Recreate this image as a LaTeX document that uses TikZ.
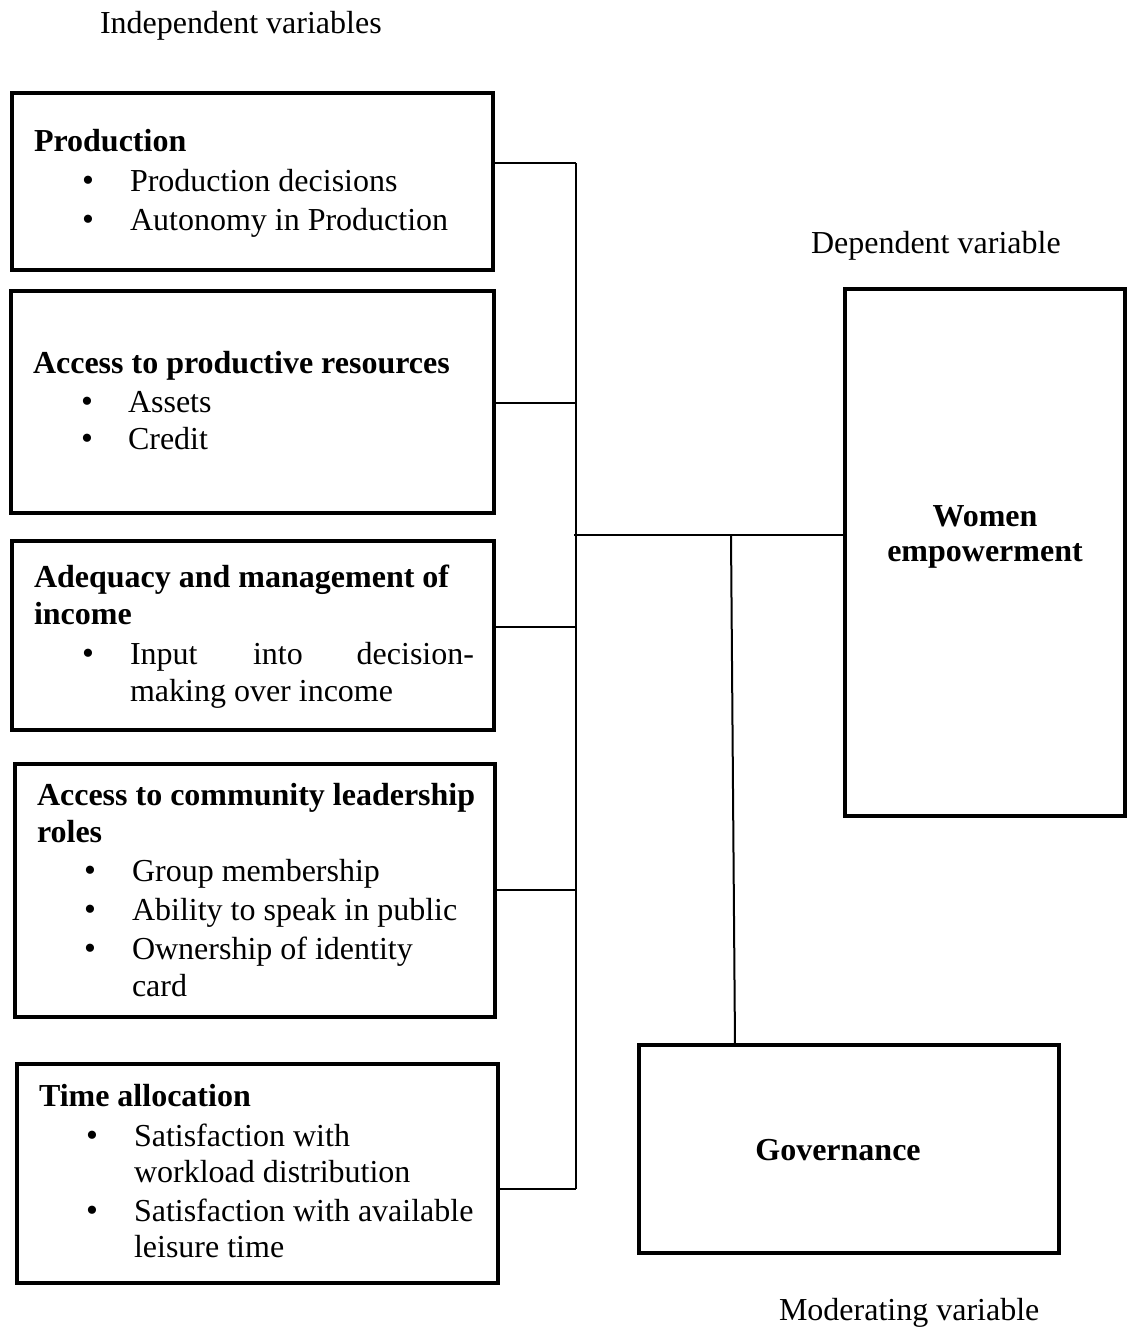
\documentclass[tikz,border=0pt]{standalone}
\usepackage{fontspec}
\setmainfont{Liberation Serif}
\begin{document}
\begin{tikzpicture}[x=1pt,y=-1pt,
  vbox/.style={draw, line width=4.5pt, inner sep=0pt, outer sep=0pt, rectangle},
  txt/.style={inner sep=0pt, outer sep=0pt, anchor=base west, font=\fontsize{32}{38}\selectfont},
  btxt/.style={txt, font=\fontsize{32}{38}\selectfont\bfseries},
  bul/.style={inner sep=0pt, outer sep=0pt, anchor=base, font=\fontsize{34}{38}\selectfont},
  conn/.style={line width=2pt}]
\useasboundingbox (0,0) rectangle (1128,1332);

% boxes
\node[vbox, minimum width=481, minimum height=177] (b1) at (252.5,181.5) {};
\node[vbox, minimum width=483, minimum height=222] (b2) at (252.5,402) {};
\node[vbox, minimum width=482, minimum height=189] (b3) at (253,635.5) {};
\node[vbox, minimum width=480, minimum height=253] (b4) at (255,890.5) {};
\node[vbox, minimum width=481, minimum height=219] (b5) at (257.5,1173.5) {};
\node[vbox, minimum width=280, minimum height=527] (we) at (985,552.5) {};
\node[vbox, minimum width=420, minimum height=208] (gov) at (849,1149) {};

% labels
\node[txt] (lind) at (100,34) {Independent variables};
\node[txt] (ldep) at (811,254) {Dependent variable};
\node[txt] (lmod) at (779,1320) {Moderating variable};

% box 1
\node[btxt] (h1) at (34,152) {Production};
\node[bul] (u11) at (88,192) {\textbullet};
\node[txt] (i11) at (130,192) {Production decisions};
\node[bul] (u12) at (88,231) {\textbullet};
\node[txt] (i12) at (130,231) {Autonomy in Production};

% box 2
\node[btxt] (h2) at (33,373) {Access to productive resources};
\node[bul] (u21) at (87,412) {\textbullet};
\node[txt] (i21) at (128,412) {Assets};
\node[bul] (u22) at (87,449) {\textbullet};
\node[txt] (i22) at (128,449) {Credit};

% box 3
\node[btxt] (h3a) at (34,587) {Adequacy and management of};
\node[btxt] (h3b) at (34,624) {income};
\node[bul] (u31) at (88,664) {\textbullet};
\node[txt] (i31a) at (130,664) {Input};
\node[txt] (i31b) at (253,664) {into};
\node[txt, anchor=base east] (i31c) at (474,664) {decision-};
\node[txt] (i32) at (130,701) {making over income};

% box 4
\node[btxt] (h4a) at (37,805) {Access to community leadership};
\node[btxt] (h4b) at (37,842) {roles};
\node[bul] (u41) at (90,881) {\textbullet};
\node[txt] (i41) at (132,881) {Group membership};
\node[bul] (u42) at (90,920) {\textbullet};
\node[txt] (i42) at (132,920) {Ability to speak in public};
\node[bul] (u43) at (90,959) {\textbullet};
\node[txt] (i43) at (132,959) {Ownership of identity};
\node[txt] (i44) at (132,996) {card};

% box 5
\node[btxt] (h5) at (39,1106) {Time allocation};
\node[bul] (u51) at (92,1146) {\textbullet};
\node[txt] (i51) at (134,1146) {Satisfaction with};
\node[txt] (i52) at (134,1182) {workload distribution};
\node[bul] (u53) at (92,1221) {\textbullet};
\node[txt] (i53) at (134,1221) {Satisfaction with available};
\node[txt] (i54) at (134,1257) {leisure time};

% women empowerment
\node[btxt, anchor=base] (w1) at (985,526) {Women};
\node[btxt, anchor=base] (w2) at (985,561) {empowerment};
% governance
\node[btxt, anchor=base] (g1) at (838,1160) {Governance};

% connectors
\coordinate (c1) at (576,163);
\coordinate (c2) at (576,403);
\coordinate (c3) at (576,627);
\coordinate (c4) at (576,890);
\coordinate (c5) at (576,1189);
\coordinate (cm) at (574,535);
\coordinate (cg) at (731,535);

\draw[conn] (c1) -- (c5);
\draw[conn] (b1.east |- c1) -- (c1);
\draw[conn] (b2.east |- c2) -- (c2);
\draw[conn] (b3.east |- c3) -- (c3);
\draw[conn] (b4.east |- c4) -- (c4);
\draw[conn] (b5.east |- c5) -- (c5);
\draw[conn] (cm) -- (we.west |- cm);
\draw[conn] (cg) -- ([xshift=4pt]cg |- gov.north);
\end{tikzpicture}
\end{document}
